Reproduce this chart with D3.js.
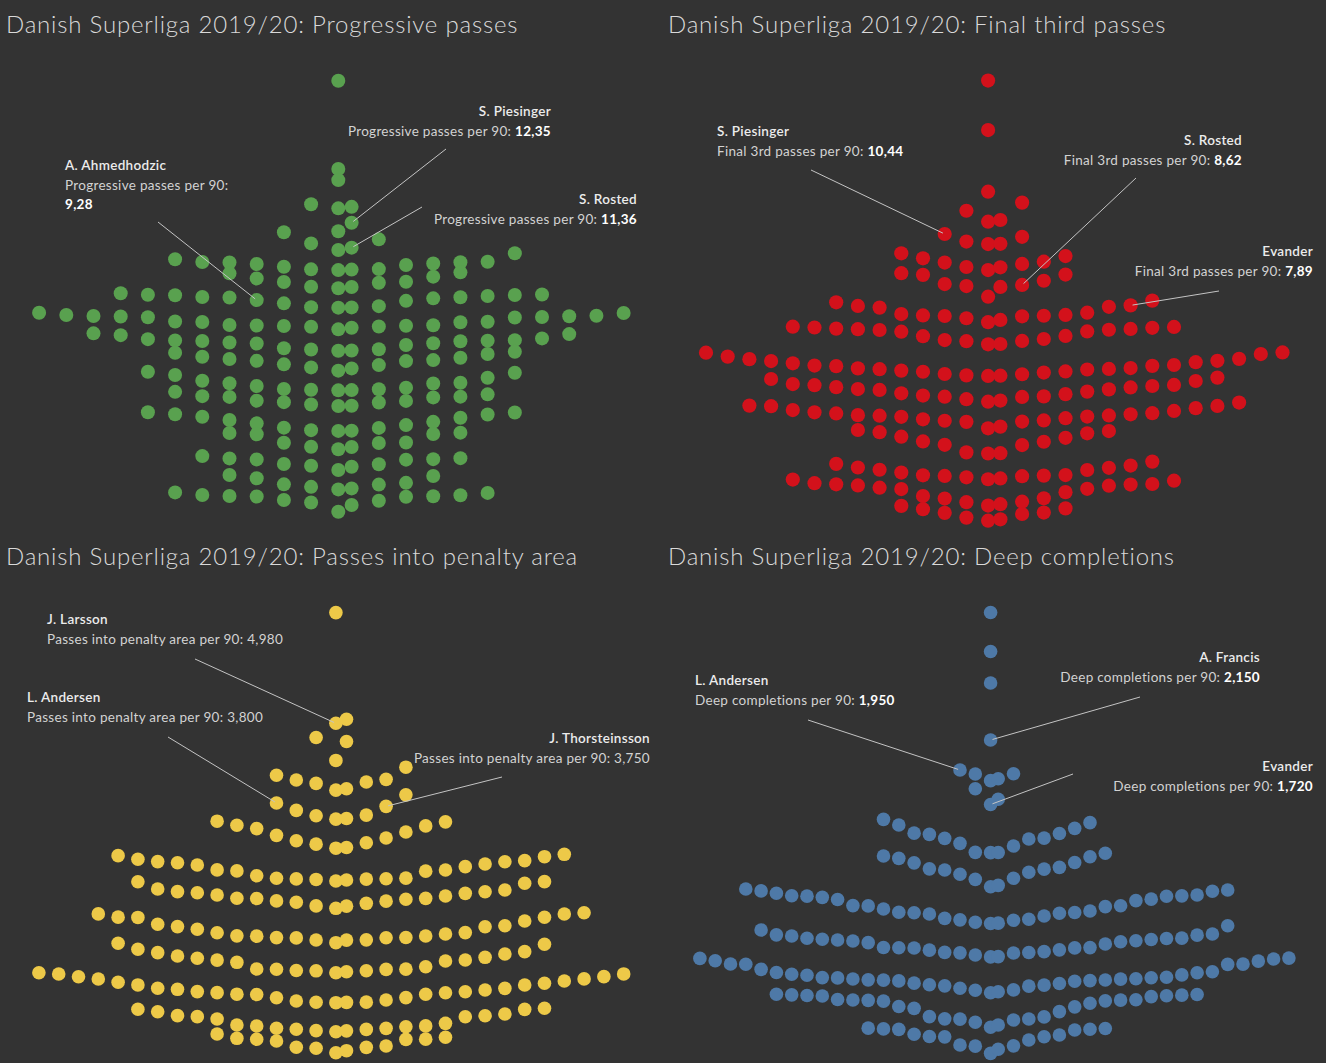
<!DOCTYPE html>
<html>
<head>
<meta charset="utf-8">
<script src="https://cdn.jsdelivr.net/npm/d3@7"></script>
<style>
  body { margin: 0; background: #333333; }
  svg { display: block; }
  text { font-family: Lato, "Open Sans", sans-serif; }
</style>
</head>
<body>
<svg id="chart" width="1326" height="1063"></svg>
<script>
// values per 90 minutes, one inner array per swarm row (group of players)
var progressiveGroups = [
  [17.98], [14.48], [14.04],
  [12.92, 12.98, 13.08],
  [12.01, 12.35],
  [11.27, 11.36, 11.53, 11.69, 11.97],
  [10.47, 10.49, 10.50, 10.51, 10.60, 10.67, 10.71, 10.73, 10.77, 10.78, 10.79, 10.80, 10.90, 11.14],
  [9.75, 9.80, 9.81, 9.97, 10.00, 10.01, 10.14, 10.21, 10.34, 10.38],
  [8.98, 8.99, 9.00, 9.04, 9.15, 9.25, 9.28, 9.35, 9.38, 9.39, 9.40, 9.44, 9.47, 9.48, 9.49, 9.50, 9.55],
  [8.12, 8.18, 8.22, 8.23, 8.25, 8.26, 8.27, 8.28, 8.29, 8.40, 8.41, 8.42, 8.43, 8.59, 8.60, 8.61, 8.63, 8.64, 8.65, 8.66, 8.69, 8.77, 8.78],
  [7.27, 7.28, 7.32, 7.33, 7.37, 7.50, 7.56, 7.57, 7.60, 7.65, 7.66, 7.67, 7.68, 7.69, 7.73, 7.76, 7.89, 7.93, 7.96],
  [6.48, 6.57, 6.61, 6.70, 6.73, 6.86, 6.87, 6.90, 6.94, 6.99, 7.03, 7.14, 7.19, 7.23],
  [5.70, 5.71, 5.72, 5.74, 5.75, 5.80, 5.87, 5.97, 5.98, 6.00, 6.08, 6.20, 6.31, 6.40, 6.44],
  [5.08, 5.09, 5.14, 5.22, 5.23, 5.28, 5.29, 5.42, 5.44, 5.45, 5.47, 5.54, 5.64],
  [4.09, 4.10, 4.12, 4.21, 4.22, 4.32, 4.39, 4.45, 4.52, 4.61, 4.65, 4.74, 4.75, 4.82, 4.83],
  [3.36, 3.45, 3.46, 3.61, 3.62, 3.63, 3.96, 3.97, 4.01, 4.02],
  [2.54, 2.67, 2.71, 2.77, 2.78, 2.95, 2.96, 2.97, 3.00, 3.01, 3.09],
  [1.77, 1.81, 1.87, 1.96, 1.97, 2.03, 2.21, 2.30, 2.34],
  [0.88, 1.15, 1.25, 1.32, 1.35, 1.48, 1.49, 1.50, 1.51, 1.54, 1.55, 1.63, 1.65]
];

var finalThirdGroups = [
  [15.92], [14.15], [11.95],
  [10.88, 10.94, 11.27, 11.56],
  [10.08, 10.09, 10.17, 10.34, 10.44],
  [9.15, 9.25, 9.26, 9.37, 9.42, 9.45, 9.57, 9.65, 9.75],
  [8.20, 8.55, 8.58, 8.62, 8.65, 8.77, 8.98, 8.99, 9.04],
  [7.29, 7.37, 7.43, 7.50, 7.51, 7.52, 7.53, 7.55, 7.58, 7.63, 7.81, 7.84, 7.87, 7.89, 8.00, 8.06],
  [6.50, 6.51, 6.61, 6.62, 6.65, 6.69, 6.79, 6.80, 6.95, 6.96, 7.01, 7.02, 7.04, 7.05, 7.06, 7.09, 7.10, 7.12, 7.13],
  [5.37, 5.38, 5.39, 5.43, 5.44, 5.49, 5.52, 5.53, 5.56, 5.60, 5.61, 5.62, 5.64, 5.65, 5.72, 5.73, 5.74, 5.76, 5.82, 5.86, 5.90, 5.91, 5.97, 5.98, 6.06, 6.15, 6.20, 6.21],
  [4.45, 4.49, 4.54, 4.62, 4.63, 4.64, 4.67, 4.72, 4.75, 4.81, 4.87, 4.89, 4.90, 4.96, 4.97, 5.01, 5.04, 5.05, 5.08, 5.19, 5.26, 5.31],
  [3.50, 3.56, 3.73, 3.74, 3.77, 3.78, 3.82, 3.86, 3.91, 3.92, 3.95, 3.96, 3.97, 4.00, 4.03, 4.04, 4.07, 4.12, 4.15, 4.22, 4.29, 4.30, 4.31, 4.42],
  [2.60, 2.61, 2.64, 2.90, 2.91, 3.02, 3.03, 3.16, 3.20, 3.32, 3.36, 3.40, 3.44],
  [1.68, 1.71, 1.75, 1.79, 1.80, 1.81, 1.82, 1.83, 1.92, 2.01, 2.02, 2.09, 2.10, 2.17, 2.23, 2.31],
  [0.74, 0.79, 0.86, 0.88, 0.99, 1.00, 1.08, 1.22, 1.33, 1.34, 1.38, 1.45, 1.46, 1.49, 1.50, 1.51, 1.54, 1.63, 1.67],
  [0.20, 0.25, 0.31, 0.44, 0.48, 0.49, 0.61, 0.64, 0.73]
];

var penaltyAreaGroups = [
  [6.62],
  [4.98, 5.04],
  [4.43, 4.71, 4.77],
  [3.99, 4.01, 4.09, 4.11, 4.14, 4.15, 4.21, 4.33],
  [3.56, 3.57, 3.61, 3.62, 3.69, 3.75, 3.80, 3.92],
  [3.13, 3.14, 3.19, 3.21, 3.24, 3.28, 3.32, 3.37, 3.42, 3.46, 3.47, 3.52, 3.53],
  [2.644, 2.659, 2.667, 2.672, 2.675, 2.678, 2.684, 2.686, 2.722, 2.790, 2.793, 2.806, 2.808, 2.856, 2.881, 2.896, 2.915, 2.929, 2.931, 2.945, 2.965, 3.004, 3.019, 3.039],
  [2.239, 2.271, 2.275, 2.313, 2.328, 2.345, 2.349, 2.373, 2.385, 2.387, 2.389, 2.421, 2.436, 2.461, 2.470, 2.484, 2.486, 2.510, 2.525, 2.610, 2.632, 2.634],
  [1.730, 1.768, 1.770, 1.772, 1.801, 1.803, 1.805, 1.807, 1.827, 1.829, 1.831, 1.859, 1.877, 1.879, 1.928, 1.966, 1.968, 1.981, 2.002, 2.051, 2.104, 2.106, 2.108, 2.154, 2.156, 2.174],
  [1.285, 1.300, 1.313, 1.315, 1.317, 1.334, 1.336, 1.338, 1.340, 1.374, 1.439, 1.459, 1.472, 1.474, 1.499, 1.513, 1.533, 1.562, 1.582, 1.597, 1.632, 1.706, 1.721],
  [0.841, 0.845, 0.847, 0.849, 0.866, 0.881, 0.914, 0.916, 0.963, 0.965, 0.967, 0.988, 0.990, 1.003, 1.005, 1.029, 1.039, 1.053, 1.055, 1.102, 1.104, 1.128, 1.143, 1.162, 1.191, 1.193, 1.225, 1.227, 1.265, 1.267, 1.284],
  [0.411, 0.424, 0.427, 0.445, 0.447, 0.461, 0.463, 0.485, 0.495, 0.497, 0.510, 0.535, 0.600, 0.632, 0.634, 0.647, 0.649, 0.674, 0.707, 0.742, 0.744, 0.758],
  [0.100, 0.130, 0.165, 0.179, 0.181, 0.200, 0.274, 0.297, 0.299, 0.301, 0.313, 0.328, 0.377]
];

var deepCompletionGroups = [
  [3.00], [2.74], [2.53], [2.15],
  [1.879, 1.892, 1.923, 1.925, 1.950],
  [1.720, 1.755, 1.825],
  [1.399, 1.400, 1.401, 1.443, 1.461, 1.490, 1.494, 1.496, 1.521, 1.527, 1.529, 1.561, 1.583, 1.599, 1.621],
  [1.172, 1.181, 1.221, 1.228, 1.255, 1.268, 1.283, 1.289, 1.291, 1.301, 1.331, 1.333, 1.361, 1.372, 1.377, 1.395],
  [0.927, 0.929, 0.935, 0.948, 0.951, 0.955, 0.961, 0.977, 0.990, 0.995, 0.998, 1.000, 1.002, 1.010, 1.023, 1.039, 1.044, 1.045, 1.046, 1.079, 1.087, 1.089, 1.101, 1.108, 1.109, 1.111, 1.112, 1.117, 1.128, 1.142, 1.144, 1.150, 1.157],
  [0.704, 0.706, 0.717, 0.730, 0.731, 0.733, 0.734, 0.739, 0.749, 0.751, 0.763, 0.764, 0.765, 0.766, 0.767, 0.790, 0.799, 0.805, 0.810, 0.812, 0.817, 0.820, 0.822, 0.827, 0.828, 0.829, 0.843, 0.849, 0.851, 0.857, 0.883, 0.912],
  [0.465, 0.472, 0.482, 0.484, 0.495, 0.509, 0.511, 0.516, 0.518, 0.527, 0.529, 0.542, 0.544, 0.546, 0.549, 0.550, 0.551, 0.556, 0.557, 0.558, 0.564, 0.565, 0.566, 0.568, 0.582, 0.584, 0.588, 0.598, 0.600, 0.605, 0.621, 0.654, 0.655, 0.656, 0.657, 0.676, 0.678, 0.690, 0.694, 0.696],
  [0.235, 0.250, 0.268, 0.283, 0.289, 0.290, 0.291, 0.304, 0.306, 0.339, 0.361, 0.371, 0.373, 0.395, 0.409, 0.411, 0.414, 0.416, 0.417, 0.418, 0.420, 0.439, 0.443, 0.445, 0.447, 0.449, 0.451, 0.453, 0.455],
  [0.061, 0.088, 0.109, 0.111, 0.117, 0.150, 0.171, 0.172, 0.173, 0.183, 0.188, 0.217, 0.221, 0.222, 0.224, 0.227, 0.229]
];

// highlighted players
var progressiveNotes = [
  { player: "S. Piesinger", value: 12.35 },
  { player: "S. Rosted", value: 11.36 },
  { player: "A. Ahmedhodzic", value: 9.28 }
];
var finalThirdNotes = [
  { player: "S. Piesinger", value: 10.44 },
  { player: "S. Rosted", value: 8.62 },
  { player: "Evander", value: 7.89 }
];
var penaltyAreaNotes = [
  { player: "J. Larsson", value: 4.98 },
  { player: "L. Andersen", value: 3.80 },
  { player: "J. Thorsteinsson", value: 3.75 }
];
var deepCompletionNotes = [
  { player: "A. Francis", value: 2.15 },
  { player: "L. Andersen", value: 1.95 },
  { player: "Evander", value: 1.72 }
];

var locale = d3.formatLocale({ decimal: ",", thousands: ".", grouping: [3], currency: ["", ""] });

var panels = [
  {
    title: "Danish Superliga 2019/20: Progressive passes",
    groups: progressiveGroups, notes: progressiveNotes,
    metric: "Progressive passes per 90: ", fmt: locale.format(".2f"), boldValue: true,
    color: "#59a14f", r: 7,
    titleX: 6, titleY: 33,
    yDomain: [0, 18], yRange: [534, 80.3],
    cx: 338.3, step: 27.2, off: 0.49,
    place: [
      { anchor: "end", x: 551, y: 111, lx: 446, ly: 149 },
      { anchor: "end", x: 637, y: 199, lx: 422, ly: 207 },
      { anchor: "start", x: 65, y: 165, lx: 158, ly: 222, wrap: true }
    ]
  },
  {
    title: "Danish Superliga 2019/20: Final third passes",
    groups: finalThirdGroups, notes: finalThirdNotes,
    metric: "Final 3rd passes per 90: ", fmt: locale.format(".2f"), boldValue: true,
    color: "#d3111b", r: 7.1,
    titleX: 668, titleY: 33,
    yDomain: [0, 16], yRange: [526.3, 78.3],
    cx: 988.1, step: 21.7, off: 0.567,
    place: [
      { anchor: "start", x: 717, y: 131, lx: 811, ly: 170 },
      { anchor: "end", x: 1242, y: 140, lx: 1136, ly: 178 },
      { anchor: "end", x: 1313, y: 251, lx: 1219, ly: 291 }
    ]
  },
  {
    title: "Danish Superliga 2019/20: Passes into penalty area",
    groups: penaltyAreaGroups, notes: penaltyAreaNotes,
    metric: "Passes into penalty area per 90: ", fmt: locale.format(".3f"), boldValue: false,
    color: "#edc948", r: 6.8,
    titleX: 6, titleY: 565,
    yDomain: [0, 7], yRange: [1059.45, 586.95],
    cx: 335.9, step: 19.8, off: 0.535,
    place: [
      { anchor: "start", x: 47, y: 619, lx: 195, ly: 659 },
      { anchor: "start", x: 27, y: 697, lx: 168, ly: 737 },
      { anchor: "end", x: 650, y: 738, lx: 502, ly: 777 }
    ]
  },
  {
    title: "Danish Superliga 2019/20: Deep completions",
    groups: deepCompletionGroups, notes: deepCompletionNotes,
    metric: "Deep completions per 90: ", fmt: locale.format(".3f"), boldValue: true,
    color: "#4e79a7", r: 6.8,
    titleX: 668, titleY: 565,
    yDomain: [0, 3], yRange: [1062.5, 612.5],
    cx: 990.6, step: 15.3, off: 0.497,
    place: [
      { anchor: "end", x: 1260, y: 657, lx: 1140, ly: 697 },
      { anchor: "start", x: 695, y: 680, lx: 808, ly: 720 },
      { anchor: "end", x: 1313, y: 766, lx: 1073, ly: 774 }
    ]
  }
];

// lowest value of a row sits in the middle, the rest alternate left / right outwards
function layoutGroups(groups, off) {
  var dots = [];
  groups.forEach(function (g, gi) {
    g.slice().sort(d3.ascending).forEach(function (v, i) {
      var slot = i % 2 === 0 ? -i / 2 : (i - 1) / 2 + off;
      dots.push({ value: v, slot: slot, group: gi });
    });
  });
  return dots;
}

var svg = d3.select("#chart");

svg.append("rect").attr("width", 1326).attr("height", 1063).attr("fill", "#333333");

panels.forEach(function (p) {
  var g = svg.append("g");
  var x = d3.scaleLinear().domain([0, 1]).range([p.cx, p.cx + p.step]);
  var y = d3.scaleLinear().domain(p.yDomain).range(p.yRange);
  var dots = layoutGroups(p.groups, p.off);

  g.append("text")
    .attr("x", p.titleX)
    .attr("y", p.titleY)
    .attr("fill", "#d9d9d9")
    .attr("font-size", 24)
    .attr("font-weight", 300)
    .attr("letter-spacing", 0.8)
    .text(p.title);

  g.selectAll("circle")
    .data(dots)
    .enter()
    .append("circle")
    .attr("cx", function (d) { return x(d.slot); })
    .attr("cy", function (d) { return y(d.value); })
    .attr("r", p.r)
    .attr("fill", p.color);

  p.notes.forEach(function (n, i) {
    var pl = p.place[i];
    var target = dots.find(function (d) { return Math.abs(d.value - n.value) < 1e-9; });
    var tx = x(target.slot), ty = y(target.value);
    var dx = tx - pl.lx, dy = ty - pl.ly, len = Math.sqrt(dx * dx + dy * dy);
    g.append("line")
      .attr("x1", pl.lx).attr("y1", pl.ly)
      .attr("x2", tx - dx / len * 2).attr("y2", ty - dy / len * 2)
      .attr("stroke", "#c4c4c4")
      .attr("stroke-width", 1);

    g.append("text")
      .attr("x", pl.x).attr("y", pl.y)
      .attr("dy", "0.35em")
      .attr("text-anchor", pl.anchor)
      .attr("font-size", 13.5)
      .attr("letter-spacing", 0.3)
      .attr("font-weight", 600)
      .attr("fill", "#ececec")
      .text(n.player);

    var valueText = p.fmt(n.value);
    var line2 = g.append("text")
      .attr("x", pl.x).attr("y", pl.y + 20)
      .attr("dy", "0.35em")
      .attr("text-anchor", pl.anchor)
      .attr("font-size", 13.5)
      .attr("letter-spacing", 0.3)
      .attr("fill", "#d2d2d2");
    line2.append("tspan").text(pl.wrap ? p.metric.trim() : p.metric);
    var target2 = pl.wrap
      ? g.append("text").attr("x", pl.x).attr("y", pl.y + 39).attr("dy", "0.35em")
          .attr("text-anchor", pl.anchor).attr("font-size", 13.5).attr("letter-spacing", 0.3)
      : line2;
    target2.append("tspan")
      .attr("font-weight", p.boldValue ? 700 : 400)
      .attr("fill", p.boldValue ? "#ffffff" : "#d2d2d2")
      .text(valueText);
  });
});
</script>
</body>
</html>
